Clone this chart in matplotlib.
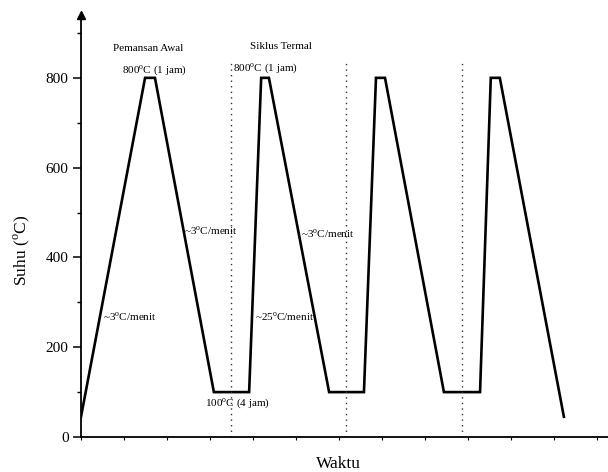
import matplotlib

matplotlib.use("Agg")
import matplotlib.pyplot as plt
from matplotlib.ticker import MultipleLocator

plt.rcParams["font.family"] = ["Liberation Serif", "DejaVu Serif"]
plt.rcParams["mathtext.fontset"] = "custom"
plt.rcParams["mathtext.rm"] = "Liberation Serif"

# thermal profile (time in arbitrary units, temperature in degC)
waktu = [0.0, 1.49, 1.72, 3.09, 3.91, 4.19, 4.37, 5.77, 6.58,
         6.86, 7.07, 8.44, 9.28, 9.53, 9.74, 11.23]
suhu = [45, 800, 800, 100, 100, 800, 800, 100, 100,
        800, 800, 100, 100, 800, 800, 45]

# cycle separators
batas_siklus = [3.49, 6.16, 8.86]
batas_atas = 835

# annotations: (text, x, y, ha)
anotasi = [
    ("Pemansan Awal", 1.56, 866, "center"),
    ("Siklus Termal", 4.65, 869, "center"),
    ("800$^{\\rm o}$C (1 jam)", 1.72, 817, "center"),
    ("800$^{\\rm o}$C (1 jam)", 4.30, 822, "center"),
    ("~3$^{\\rm o}$C/menit", 2.40, 459, "left"),
    ("~3$^{\\rm o}$C/menit", 5.12, 452, "left"),
    ("~3$^{\\rm o}$C/menit", 0.51, 269, "left"),
    ("~25$^{\\rm o}$C/menit", 4.05, 269, "left"),
    ("100$^{\\rm o}$C (4 jam)", 3.65, 76, "center"),
]

fig = plt.figure(figsize=(6.08, 4.72), dpi=100)
ax = fig.add_axes([81 / 608, 1 - 437 / 472, 527 / 608, 422 / 472])

ax.plot(waktu, suhu, color="black", lw=1.9, solid_joinstyle="miter")
for xb in batas_siklus:
    ax.plot([xb, xb], [0, batas_atas], color="#333333", lw=1.0,
            linestyle=(0, (1, 3)))

for teks, x, y, ha in anotasi:
    ax.text(x, y, teks, ha=ha, va="center", fontsize=8)

ax.set_xlim(0, 527 / 43)
ax.set_ylim(0, 940)

for s in ("top", "right"):
    ax.spines[s].set_visible(False)
ax.spines["left"].set_linewidth(1.3)
ax.spines["bottom"].set_linewidth(1.3)

# arrow on top of y axis
ax.plot([0], [940], marker="^", color="black", markersize=6, clip_on=False)

ax.set_yticks([0, 200, 400, 600, 800])
ax.yaxis.set_minor_locator(MultipleLocator(100))
ax.set_xticks([])
ax.xaxis.set_minor_locator(MultipleLocator(1))
ax.tick_params(axis="y", which="major", direction="out", length=6,
               width=1.1, labelsize=11, pad=3)
ax.tick_params(axis="y", which="minor", direction="out", length=3, width=1.0)
ax.tick_params(axis="x", which="minor", direction="out", length=2.5, width=0.8)

fig.text(338 / 608, 1 - 464 / 472, "Waktu", ha="center", va="center",
         fontsize=12.5)
fig.text(22 / 608, 1 - 250 / 472, "Suhu ($^{\\rm o}$C)", ha="center",
         va="center", rotation=90, fontsize=12.5)

fig.savefig("out.png", dpi=100, facecolor="white")
